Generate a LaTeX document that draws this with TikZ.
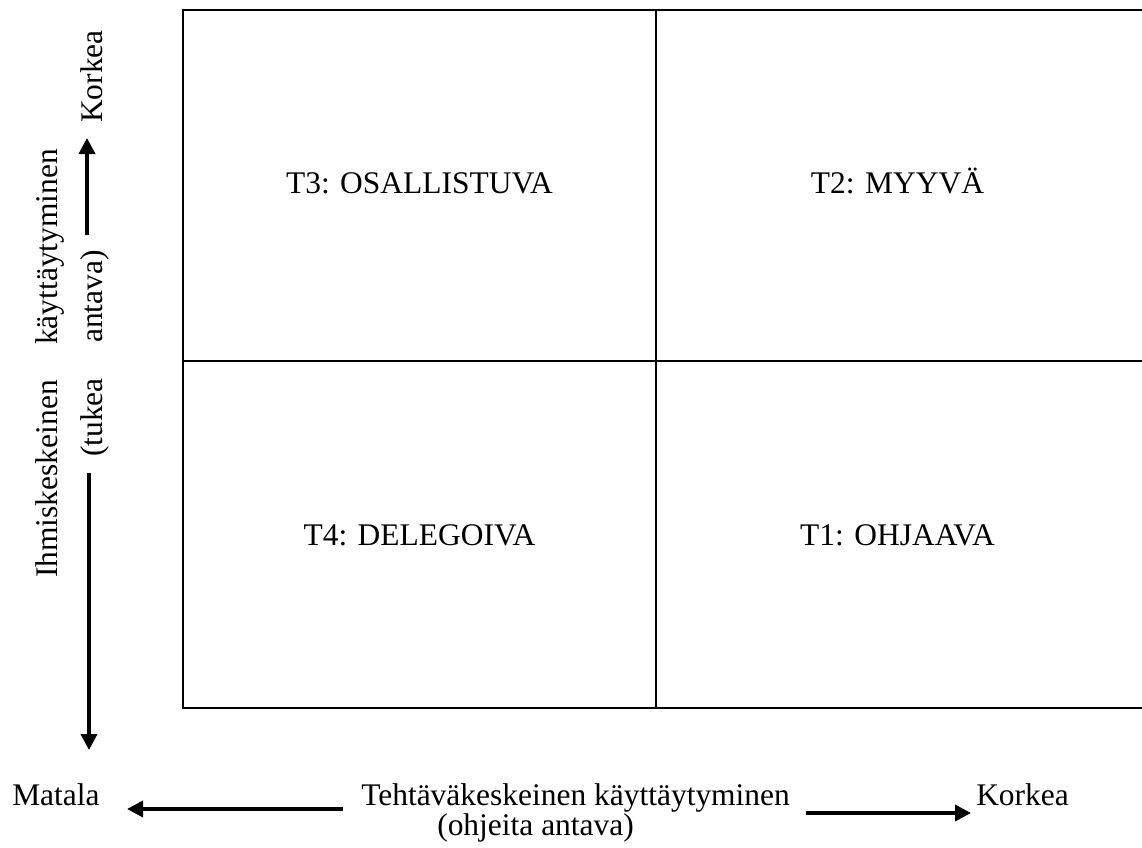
\documentclass[tikz,border=0pt]{standalone}
\usepackage{fontspec}
\setmainfont{Liberation Serif}
\usetikzlibrary{arrows.meta}
\tikzset{
  lbl/.style={inner sep=0pt, font=\fontsize{23.6}{28}\selectfont},
  vlbl/.style={lbl, rotate=90, anchor=base west},
  axisarrow/.style={-{Triangle[length=12pt,width=12pt]}, line width=2.8pt},
}
\begin{document}
\begin{tikzpicture}[x=0.75pt, y=0.75pt]
\useasboundingbox (0,0) rectangle (1142,-847);
\draw [black, line width=1.5pt] (1150,-10) -- (183,-10) -- (183,-708) -- (1150,-708);
\draw [black, line width=1pt] (656,-10) -- (656,-708);
\draw [black, line width=1pt] (183,-361) -- (1150,-361);
\node [lbl, anchor=base] (t3) at (419.5,-193) {T3: OSALLISTUVA};
\node [lbl, anchor=base] (t2) at (897.5,-193) {T2: MYYVÄ};
\node [lbl, anchor=base] (t4) at (419.5,-545) {T4: DELEGOIVA};
\node [lbl, anchor=base] (t1) at (897.5,-545) {T1: OHJAAVA};
\node [vlbl] (ihmis) at (57,-578) {Ihmiskeskeinen};
\node [vlbl] (kaytY) at (57,-345) {käyttäytyminen};
\node [vlbl] (tukea) at (102,-457) {(tukea};
\node [vlbl] (antava) at (102,-343) {antava)};
\node [vlbl] (korkeaY) at (102,-123) {Korkea};
\node [lbl, anchor=base west] (matala) at (12,-805) {Matala};
\node [lbl, anchor=base west] (tehtava) at (361,-805) {Tehtäväkeskeinen käyttäytyminen};
\node [lbl, anchor=base west] (ohjeita) at (437,-835) {(ohjeita antava)};
\node [lbl, anchor=base west] (korkeaX) at (976,-805) {Korkea};
\coordinate (upS) at (87,-235);
\coordinate (upE) at (87,-138);
\coordinate (downS) at (89,-473);
\coordinate (downE) at (89,-750);
\coordinate (leftS) at (343,-809);
\coordinate (leftE) at (127,-809);
\coordinate (rightS) at (806,-813);
\coordinate (rightE) at (971,-813);
\draw [axisarrow] (upS) -- (upE);
\draw [axisarrow] (downS) -- (downE);
\draw [axisarrow] (leftS) -- (leftE);
\draw [axisarrow] (rightS) -- (rightE);
\end{tikzpicture}
\end{document}
